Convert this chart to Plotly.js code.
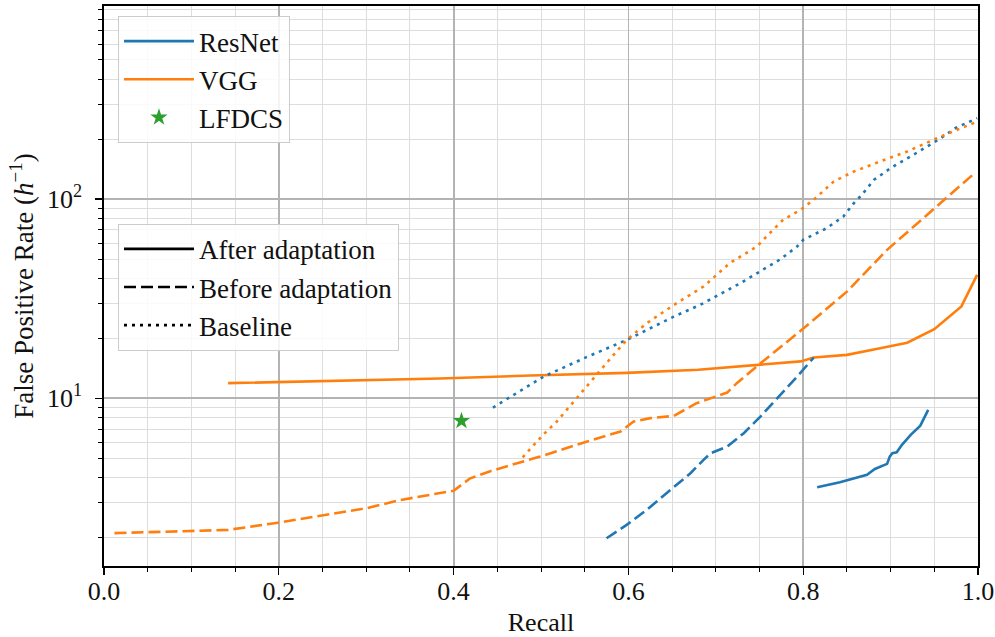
<!DOCTYPE html>
<html>
<head>
<meta charset="utf-8">
<script src="https://cdn.plot.ly/plotly-3.0.1.min.js"></script>
<style>
  html, body { margin: 0; padding: 0; background: #ffffff; }
  #chart { width: 995px; height: 637px; }
  #chart .legendtext { font-family: 'Liberation Serif', 'Times New Roman', serif !important; }
</style>
</head>
<body>
<div id="chart"></div>
<script>
// Recall vs. false positive rate (per hour) for each detector

// ResNet, after adaptation
const resnetAfterX = [0.816, 0.842, 0.873, 0.882, 0.896, 0.899, 0.902, 0.907, 0.913, 0.923, 0.934, 0.943];
const resnetAfterY = [3.57, 3.78, 4.12, 4.41, 4.68, 5.09, 5.29, 5.35, 5.83, 6.54, 7.28, 8.73];

// ResNet, before adaptation
const resnetBeforeX = [0.575, 0.598, 0.621, 0.648, 0.671, 0.686, 0.694, 0.713, 0.732, 0.751, 0.774, 0.793, 0.812];
const resnetBeforeY = [1.98, 2.31, 2.75, 3.46, 4.20, 4.90, 5.29, 5.71, 6.67, 8.08, 10.39, 12.84, 15.98];

// ResNet baseline
const resnetBaseX = [0.445, 0.503, 0.552, 0.598, 0.652, 0.682, 0.728, 0.774, 0.793, 0.800, 0.827, 0.846, 0.858, 0.867, 0.881, 0.900, 0.926, 0.955, 0.974, 0.999];
const resnetBaseY = [8.97, 12.84, 16.07, 19.6, 25.7, 29.4, 37.8, 49.9, 57.8, 62.4, 71.5, 81.8, 95.5, 105, 125, 143, 167, 199, 227, 255];

// VGG, after adaptation
const vggAfterX = [0.142, 0.200, 0.300, 0.384, 0.488, 0.598, 0.680, 0.751, 0.797, 0.812, 0.850, 0.888, 0.919, 0.950, 0.981, 0.999];
const vggAfterY = [11.9, 12.05, 12.3, 12.55, 13.0, 13.4, 13.9, 14.7, 15.3, 16.0, 16.5, 17.8, 19.0, 22.2, 28.9, 41.7];

// VGG, before adaptation
const vggBeforeX = [0.012, 0.142, 0.199, 0.300, 0.339, 0.400, 0.419, 0.442, 0.499, 0.552, 0.591, 0.606, 0.625, 0.652, 0.678, 0.713, 0.724, 0.749, 0.797, 0.850, 0.896, 0.949, 0.997];
const vggBeforeY = [2.10, 2.18, 2.37, 2.80, 3.08, 3.43, 3.96, 4.30, 5.09, 6.05, 6.80, 7.63, 7.94, 8.15, 9.44, 10.67, 11.9, 14.7, 21.8, 34.3, 55.6, 88.4, 136];

// VGG baseline
const vggBaseX = [0.479, 0.503, 0.518, 0.539, 0.560, 0.583, 0.598, 0.621, 0.652, 0.686, 0.716, 0.747, 0.758, 0.777, 0.797, 0.812, 0.835, 0.858, 0.888, 0.919, 0.957, 0.999];
const vggBaseY = [5.05, 6.59, 7.63, 9.81, 12.6, 16.5, 19.6, 23.8, 29.4, 36.4, 47.7, 57.8, 64.9, 78.7, 88.4, 99.2, 122.6, 137.6, 154.5, 173.5, 206, 245];

// LFDCS operating point
const lfdcsX = [0.409];
const lfdcsY = [7.69];

// Axis ticks
const xTickVals = [0.0, 0.2, 0.4, 0.6, 0.8, 1.0];
const xTickText = ['0.0', '0.2', '0.4', '0.6', '0.8', '1.0'];
const xMinorVals = [0.05, 0.1, 0.15, 0.25, 0.3, 0.35, 0.45, 0.5, 0.55, 0.65, 0.7, 0.75, 0.85, 0.9, 0.95];
const yTickVals = [10, 100];
const yTickText = ['10<sup>1</sup>', '10<sup>2</sup>'];
const yMinorVals = [2, 3, 4, 5, 6, 7, 8, 9, 20, 30, 40, 50, 60, 70, 80, 90, 200, 300, 400, 500, 600, 700, 800, 900];

const BLUE = '#1f77b4';
const ORANGE = '#ff7f0e';
const GREEN = '#2ca02c';
const FAMILY = 'Liberation Serif';
const LW = 2.6;
const DASH = '12px,5px';
const DOT = '3px,5px';

function line(x, y, color, dash, name, show) {
  return {
    type: 'scatter', mode: 'lines', x: x, y: y, name: name,
    showlegend: show, legend: 'legend',
    line: { color: color, width: LW, dash: dash },
    hoverinfo: 'skip'
  };
}

function styleKey(name, dash) {
  return {
    type: 'scatter', mode: 'lines', x: [null], y: [null], name: name,
    legend: 'legend2', showlegend: true,
    line: { color: '#000000', width: LW, dash: dash },
    hoverinfo: 'skip'
  };
}

const traces = [
  line(resnetAfterX, resnetAfterY, BLUE, 'solid', 'ResNet', true),
  line(vggAfterX, vggAfterY, ORANGE, 'solid', 'VGG', true),
  {
    type: 'scatter', mode: 'markers', x: lfdcsX, y: lfdcsY, name: 'LFDCS',
    legend: 'legend', showlegend: true,
    marker: { symbol: 'star', size: 13, color: GREEN, line: { width: 0 } },
    hoverinfo: 'skip'
  },
  line(resnetBeforeX, resnetBeforeY, BLUE, DASH, 'ResNet before', false),
  line(vggBeforeX, vggBeforeY, ORANGE, DASH, 'VGG before', false),
  line(resnetBaseX, resnetBaseY, BLUE, DOT, 'ResNet baseline', false),
  line(vggBaseX, vggBaseY, ORANGE, DOT, 'VGG baseline', false),
  styleKey('After adaptation', 'solid'),
  styleKey('Before adaptation', DASH),
  styleKey('Baseline', DOT)
];

function legendAt(x, y) {
  return {
    x: x, y: y,
    xanchor: 'left', yanchor: 'top',
    bgcolor: 'rgba(255,255,255,0.85)',
    bordercolor: '#cccccc', borderwidth: 1,
    font: { family: FAMILY, size: 27, color: '#111111' },
    itemwidth: 70,
    tracegroupgap: 0
  };
}

const layout = {
  width: 995, height: 637,
  margin: { l: 104, r: 17, t: 6, b: 71, pad: 0 },
  paper_bgcolor: '#ffffff', plot_bgcolor: '#ffffff',
  font: { family: FAMILY, size: 26, color: '#111111' },
  showlegend: true,
  xaxis: {
    range: [0, 1],
    tickmode: 'array', tickvals: xTickVals, ticktext: xTickText,
    ticks: 'outside', ticklen: 7, tickwidth: 1.3, tickcolor: '#000000',
    ticklabelstandoff: -6,
    tickfont: { family: FAMILY, size: 26, color: '#111111' },
    showline: true, linecolor: '#000000', linewidth: 1.6, mirror: true,
    showgrid: true, gridcolor: '#b3b3b3', gridwidth: 1.8,
    zeroline: false,
    minor: {
      tickmode: 'array', tickvals: xMinorVals,
      ticks: 'outside', ticklen: 4, tickwidth: 1, tickcolor: '#000000',
      showgrid: true, gridcolor: '#dddddd', gridwidth: 1
    },
    title: { text: 'Recall', font: { family: FAMILY, size: 26, color: '#111111' }, standoff: 18 }
  },
  yaxis: {
    type: 'log',
    range: [Math.log10(1.436), Math.log10(933)],
    tickmode: 'array', tickvals: yTickVals, ticktext: yTickText,
    ticks: 'outside', ticklen: 7, tickwidth: 1.3, tickcolor: '#000000',
    ticklabelstandoff: 8,
    tickfont: { family: FAMILY, size: 26, color: '#111111' },
    showline: true, linecolor: '#000000', linewidth: 1.6, mirror: true,
    showgrid: true, gridcolor: '#b3b3b3', gridwidth: 1.8,
    zeroline: false,
    minor: {
      tickmode: 'array', tickvals: yMinorVals,
      ticks: 'outside', ticklen: 4, tickwidth: 1, tickcolor: '#000000',
      showgrid: true, gridcolor: '#dddddd', gridwidth: 1
    },
    title: { text: 'False Positive Rate (<i>h</i><sup>\u22121</sup>)', font: { family: FAMILY, size: 27, color: '#111111' }, standoff: 5 }
  },
  legend: legendAt(0.016, 0.982),
  legend2: legendAt(0.016, 0.611)
};

Plotly.newPlot('chart', traces, layout, { displayModeBar: false, staticPlot: true });
</script>
</body>
</html>
